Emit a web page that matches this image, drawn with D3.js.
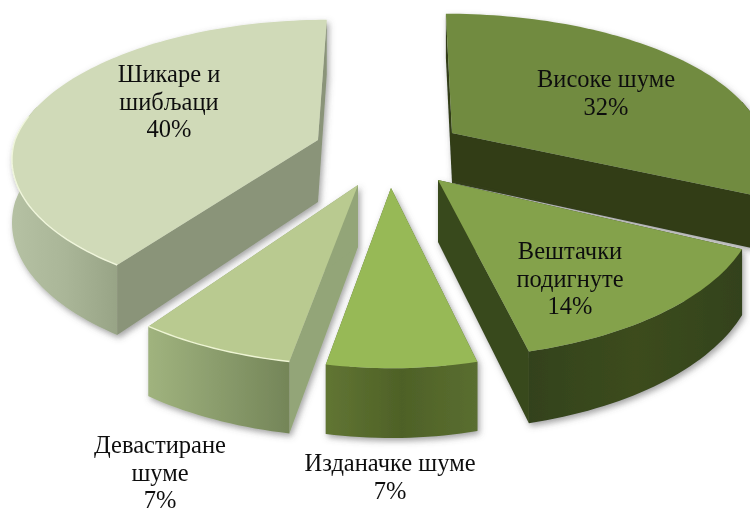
<!DOCTYPE html>
<html lang="sr">

<head>
  <meta charset="UTF-8">
  <script src="https://d3js.org/d3.v7.min.js"></script>
  <style>
    html, body { margin: 0; padding: 0; background: #fff; }
    svg { display: block; }
    text { font-family: "Liberation Serif", serif; font-size: 24.5px; fill: #111; text-anchor: middle; }
  </style>
</head>

<body>
  <div id="chart"></div>

  <script>
    // data
    const categories = ['Високе шуме', 'Вештачки подигнуте', 'Изданачке шуме', 'Девастиране шуме', 'Шикаре и шибљаци'];
    const values = [32, 14, 7, 7, 40];
    const labelLines = [
      ['Високе шуме', '32%'],
      ['Вештачки', 'подигнуте', '14%'],
      ['Изданачке шуме', '7%'],
      ['Девастиране', 'шуме', '7%'],
      ['Шикаре и', 'шибљаци', '40%']
    ];

    // one exploded slice each: apex position, radii and wall height
    const apexX = [452, 438, 391, 358, 318];
    const apexY = [133, 180, 188, 185, 140];
    const radiusX = [310, 316, 300, 316, 303];
    const radiusY = [136, 153, 155, 155, 137];
    const wallH = [50, 62, 60, 62, 62];
    const backLean = [7, 0, 0, 0, -10]; // far edge leans toward the vanishing point
    const perspective = 0.14;

    const topColors = ['#718b3f', '#84a24b', '#97b957', '#b9ca90', '#d0dab8'];
    const sideColors = ['#303e18', '#39491c', '#5a6e2e', '#93a578', '#8a9479'];
    const rimStops = [
      ['#2c3a16', '#33421a', '#2c3a16'],
      ['#33421a', '#3c4c1e', '#33421a'],
      ['#617533', '#4e6127', '#5a6e30'],
      ['#a0b37e', '#8a9c6c', '#748558'],
      ['#b5c1a3', '#aab698', '#98a486']
    ];
    const edgeColors = [null, null, null, '#eef5d4', '#f0f6dc'];

    // label positions
    const labelX = [606, 570, 390, 160, 169];
    const labelY = [87, 259, 471, 453, 82];
    const lineStep = 27.5;

    const width = 750;
    const height = 509;

    const svg = d3.select('#chart').append('svg').attr('width', width).attr('height', height);
    const defs = svg.append('defs');

    const shadow = defs.append('filter').attr('id', 'shadow')
      .attr('x', '-10%').attr('y', '-10%').attr('width', '120%').attr('height', '120%');
    shadow.append('feDropShadow').attr('dx', 2).attr('dy', 3).attr('stdDeviation', 3)
      .attr('flood-color', '#555').attr('flood-opacity', 0.55);

    const soften = defs.append('filter').attr('id', 'soften');
    soften.append('feGaussianBlur').attr('stdDeviation', 0.35);

    const arcs = d3.pie().sort(null).value(d => d)(values);

    // ground angle -> screen point, nearer points get larger
    function project(i, angle, drop) {
      const u = Math.sin(angle);
      const v = -Math.cos(angle);
      const s = 1 / (1 - perspective * v);
      return [
        apexX[i] + radiusX[i] * u * s + backLean[i] * Math.min(v, 0) * s,
        apexY[i] + radiusY[i] * v * s + drop * s
      ];
    }

    function arcAngles(a) {
      const n = Math.max(8, Math.round((a.endAngle - a.startAngle) * 40));
      return d3.range(n + 1).map(k => a.startAngle + (a.endAngle - a.startAngle) * k / n);
    }

    const line = d3.line();

    // back slices first, the front ones paint over them
    const drawOrder = [0, 4, 1, 3, 2];

    drawOrder.forEach(i => {
      const a = arcs[i];
      const angles = arcAngles(a);
      const h = wallH[i];
      const g = svg.append('g').attr('filter', 'url(#shadow)');

      const grad = defs.append('linearGradient').attr('id', 'rim' + i);
      rimStops[i].forEach((c, k) => {
        grad.append('stop').attr('offset', k / 2).attr('stop-color', c);
      });

      // radial walls
      [a.startAngle, a.endAngle].forEach(t => {
        const apex = [apexX[i], apexY[i]];
        const pts = [apex, project(i, t, 0), project(i, t, h), [apex[0], apex[1] + h]];
        g.append('path').attr('d', line(pts) + 'Z').attr('fill', sideColors[i]);
      });

      // outer wall, only the part facing the viewer shows
      const front = angles.filter(t => Math.cos(t) < 0.25);
      if (front.length) {
        const upper = front.map(t => project(i, t, 0));
        const lower = front.map(t => project(i, t, h)).reverse();
        g.append('path').attr('d', line(upper.concat(lower)) + 'Z').attr('fill', `url(#rim${i})`);
      }

      // top face
      const face = [[apexX[i], apexY[i]]].concat(angles.map(t => project(i, t, 0)));
      g.append('path').attr('d', line(face) + 'Z').attr('fill', topColors[i]);

      if (edgeColors[i]) {
        const lit = angles.filter(t => Math.cos(t) < 0.2).map(t => project(i, t, 0));
        g.append('path').attr('d', line(lit)).attr('fill', 'none')
          .attr('stroke', edgeColors[i]).attr('stroke-width', 1.4);
      }
    });

    labelLines.forEach((lines, i) => {
      const t = svg.append('text').attr('filter', 'url(#soften)').attr('aria-label', categories[i]);
      lines.forEach((s, k) => {
        t.append('tspan').attr('x', labelX[i]).attr('y', labelY[i] + k * lineStep).text(s);
      });
    });
  </script>
</body>

</html>
